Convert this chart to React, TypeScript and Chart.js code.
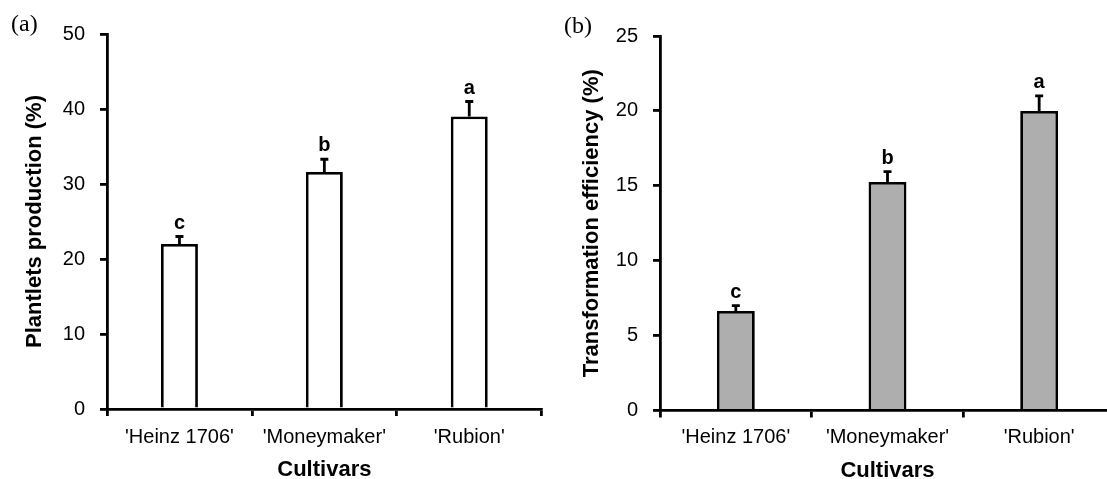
import React, { useEffect, useRef } from "react";
import { Chart, registerables } from "chart.js";

Chart.register(...registerables);

const cultivars = ["'Heinz 1706'", "'Moneymaker'", "'Rubion'"];

const plantletsValues = [22.0, 31.6, 39.0];
const plantletsErrors = [1.0, 1.7, 2.0];
const plantletsLetters = ["c", "b", "a"];
const plantletsMax = 50;
const plantletsStep = 10;

const transformValues = [6.65, 15.25, 20.0];
const transformErrors = [0.35, 0.7, 1.0];
const transformLetters = ["c", "b", "a"];
const transformMax = 25;
const transformStep = 5;

const SANS = "'Liberation Sans', Arial, sans-serif";
const SERIF = "'Liberation Serif', 'Times New Roman', serif";
const CANVAS_H = 485;
const LINE_W = 2.8;

const errorBarPlugin = {
  id: "errorBars",
  afterDatasetsDraw(chart: any, _args: any, opts: any) {
    const { ctx } = chart;
    const meta = chart.getDatasetMeta(0);
    const y = chart.scales.y;
    const values: number[] = opts.values;
    const errors: number[] = opts.errors;
    const letters: string[] = opts.letters;
    ctx.save();
    ctx.strokeStyle = "#000";
    ctx.lineWidth = LINE_W;
    ctx.fillStyle = "#000";
    ctx.font = `bold 20px ${SANS}`;
    ctx.textAlign = "center";
    ctx.textBaseline = "alphabetic";
    meta.data.forEach((bar: any, i: number) => {
      const x = bar.x;
      const y0 = y.getPixelForValue(values[i]);
      const y1 = y.getPixelForValue(values[i] + errors[i]);
      ctx.beginPath();
      ctx.moveTo(x, y0);
      ctx.lineTo(x, y1);
      ctx.moveTo(x - 4, y1);
      ctx.lineTo(x + 4, y1);
      ctx.stroke();
      ctx.fillText(letters[i], x, y1 - 8);
    });
    ctx.restore();
  },
};

type PanelProps = {
  left: number;
  width: number;
  values: number[];
  errors: number[];
  letters: string[];
  max: number;
  step: number;
  yTitle: string;
  fill: string;
  barPct: number;
  areaTop: number;
  areaBottom: number;
  titlePad: number;
  padRight: number;
  xTickPad: number;
  xTitlePad: number;
};

function Panel(p: PanelProps) {
  const ref = useRef<HTMLCanvasElement | null>(null);
  useEffect(() => {
    if (!ref.current) return;
    const chart = new Chart(ref.current, {
      type: "bar",
      data: {
        labels: cultivars,
        datasets: [
          {
            data: p.values,
            backgroundColor: p.fill,
            borderColor: "#000",
            borderWidth: LINE_W,
            categoryPercentage: 1,
            barPercentage: p.barPct,
          },
        ],
      },
      plugins: [errorBarPlugin],
      options: {
        responsive: false,
        animation: false,
        devicePixelRatio: 1,
        layout: { padding: { left: 0, top: p.areaTop, right: p.padRight, bottom: 0 } },
        plugins: {
          legend: { display: false },
          tooltip: { enabled: false },
          errorBars: { values: p.values, errors: p.errors, letters: p.letters },
        } as any,
        scales: {
          x: {
            type: "category",
            grid: {
              offset: true,
              drawOnChartArea: false,
              drawTicks: true,
              tickLength: 7,
              color: "#000",
              lineWidth: LINE_W,
            },
            border: { display: true, color: "#000", width: LINE_W },
            ticks: {
              color: "#000",
              font: { family: SANS, size: 20 },
              padding: p.xTickPad,
              autoSkip: false,
              maxRotation: 0,
              minRotation: 0,
            },
            title: {
              display: true,
              text: "Cultivars",
              color: "#000",
              font: { family: SANS, size: 22, weight: "bold" },
              padding: { top: 0, bottom: p.xTitlePad },
            },
            afterFit: (scale: any) => {
              scale.height = CANVAS_H - p.areaBottom;
            },
          },
          y: {
            min: 0,
            max: p.max,
            ticks: {
              stepSize: p.step,
              color: "#000",
              font: { family: SANS, size: 20 },
              padding: 15,
            },
            grid: {
              drawOnChartArea: false,
              drawTicks: true,
              tickLength: 7,
              color: "#000",
              lineWidth: LINE_W,
            },
            border: { display: true, color: "#000", width: LINE_W },
            title: {
              display: true,
              text: p.yTitle,
              color: "#000",
              font: { family: SANS, size: 22, weight: "bold" },
              padding: { top: p.titlePad, bottom: 0 },
            },
            afterFit: (scale: any) => {
              scale.width = 107;
            },
          },
        },
      } as any,
    });
    return () => chart.destroy();
  }, []);
  return (
    <canvas
      ref={ref}
      width={p.width}
      height={CANVAS_H}
      style={{ position: "absolute", left: p.left, top: 0, width: p.width, height: CANVAS_H }}
    />
  );
}

export default function App() {
  return (
    <div
      style={{
        position: "fixed",
        left: 0,
        top: 0,
        width: 1107,
        height: 479,
        overflow: "hidden",
        background: "#fff",
      }}
    >
      <Panel
        left={0}
        width={553}
        values={plantletsValues}
        errors={plantletsErrors}
        letters={plantletsLetters}
        max={plantletsMax}
        step={plantletsStep}
        yTitle="Plantlets production (%)"
        fill="#ffffff"
        barPct={0.255}
        areaTop={34}
        areaBottom={409}
        titlePad={21.8}
        padRight={11.3}
        xTickPad={9}
        xTitlePad={2.3}
      />
      <Panel
        left={553}
        width={580}
        values={transformValues}
        errors={transformErrors}
        letters={transformLetters}
        max={transformMax}
        step={transformStep}
        yTitle="Transformation efficiency (%)"
        fill="#aeaeae"
        barPct={0.25}
        areaTop={36}
        areaBottom={410.5}
        titlePad={25.8}
        padRight={18}
        xTickPad={8}
        xTitlePad={1.3}
      />
      <div
        style={{
          position: "absolute",
          left: 11,
          top: 11.4,
          fontFamily: SERIF,
          fontSize: 24,
          lineHeight: "24px",
          color: "#000",
        }}
      >
        (a)
      </div>
      <div
        style={{
          position: "absolute",
          left: 564,
          top: 12.9,
          fontFamily: SERIF,
          fontSize: 24,
          lineHeight: "24px",
          color: "#000",
        }}
      >
        (b)
      </div>
    </div>
  );
}
